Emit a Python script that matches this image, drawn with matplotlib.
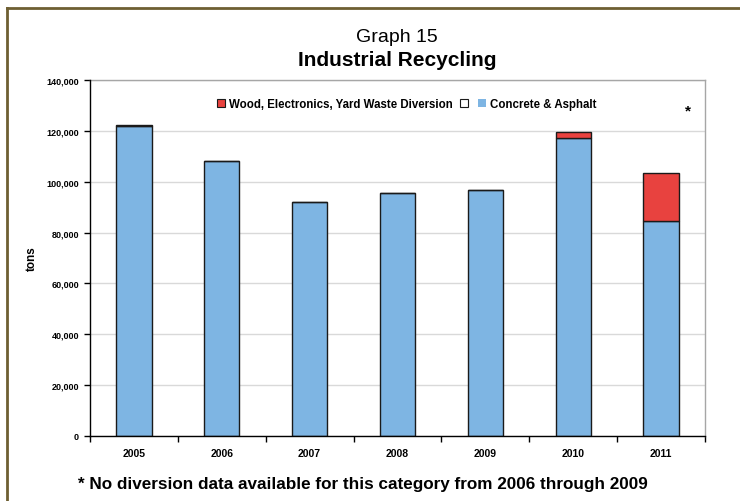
import matplotlib
matplotlib.use("Agg")
import matplotlib.pyplot as plt
from matplotlib.patches import Patch
from matplotlib.lines import Line2D
import numpy as np

plt.rcParams['font.family'] = ['Liberation Sans', 'DejaVu Sans']

years = ['2005', '2006', '2007', '2008', '2009', '2010', '2011']
concrete = [121800, 108100, 92100, 95600, 96700, 117200, 84700]
diversion = [600, 0, 0, 0, 0, 2250, 18750]

blue = '#7EB5E3'
red = '#E8423F'

fig = plt.figure(figsize=(7.4, 5.02), dpi=100)
ax = fig.add_axes([90/740, 65/502, 615/740, 356/502])

x = np.arange(len(years))
w = 0.4
ax.bar(x, concrete, width=w, color=blue, edgecolor='#1a1a1a', linewidth=1.0, zorder=3)
ax.bar(x, diversion, width=w, bottom=concrete, color=red, edgecolor='#1a1a1a', linewidth=1.0, zorder=3)

ax.set_xlim(-0.5, len(years) - 0.5)
ax.set_ylim(0, 140000)
ax.set_yticks(np.arange(0, 140001, 20000))
ax.set_yticklabels([f'{v:,}' for v in range(0, 140001, 20000)], fontsize=6.5, fontweight='bold')
ax.set_xticks(x)
ax.set_xticklabels(years, fontsize=7.5, fontweight='bold')
ax.set_xticks(np.arange(-0.5, len(years)), minor=True)
ax.tick_params(axis='x', which='major', length=0, pad=9)
ax.tick_params(axis='x', which='minor', length=4, width=1, color='black', direction='out')
ax.tick_params(axis='y', length=4, width=1, color='black', direction='out', pad=4)
ax.grid(axis='y', color='#d9d9d9', linewidth=1, zorder=0)
for s in ['top', 'right']:
    ax.spines[s].set_color('#a6a6a6')
    ax.spines[s].set_linewidth(1)
for s in ['left', 'bottom']:
    ax.spines[s].set_color('black')
    ax.spines[s].set_linewidth(1)
ax.spines['left'].set_zorder(4)
ax.spines['bottom'].set_zorder(4)

ax.set_ylabel('tons', fontsize=8.5, fontweight='bold', labelpad=6)

handles = [Patch(facecolor=red, edgecolor='#1a1a1a', linewidth=0.8),
           Patch(facecolor='white', edgecolor='#1a1a1a', linewidth=0.8),
           Patch(facecolor=blue, edgecolor='none')]
labels = ['Wood, Electronics, Yard Waste Diversion', '', 'Concrete & Asphalt']
leg = ax.legend(handles, labels, loc='center', bbox_to_anchor=(0.515, 0.933), ncol=3,
                frameon=False, prop={'size': 8.3, 'weight': 'bold'},
                handlelength=0.7, handleheight=0.7, handletextpad=0.3, columnspacing=0.6)

ax.text(0.972, 0.915, '*', transform=ax.transAxes, fontsize=11, fontweight='bold', ha='center', va='center')

fig.text(397/740, 1 - 37/502, 'Graph 15', fontsize=14, ha='center', va='center')
fig.text(397/740, 1 - 61/502, 'Industrial Recycling', fontsize=15, fontweight='bold', ha='center', va='center')
fig.text(78/740, 1 - 485/502, '* No diversion data available for this category from 2006 through 2009',
         fontsize=12.3, fontweight='bold', ha='left', va='center')

border = '#6E5F32'
fig.add_artist(Line2D([7/740, 1], [1 - 9/502, 1 - 9/502], transform=fig.transFigure, color=border, linewidth=2))
fig.add_artist(Line2D([7/740, 7/740], [0, 1 - 9/502], transform=fig.transFigure, color=border, linewidth=2))

fig.savefig('out.png', dpi=100)
